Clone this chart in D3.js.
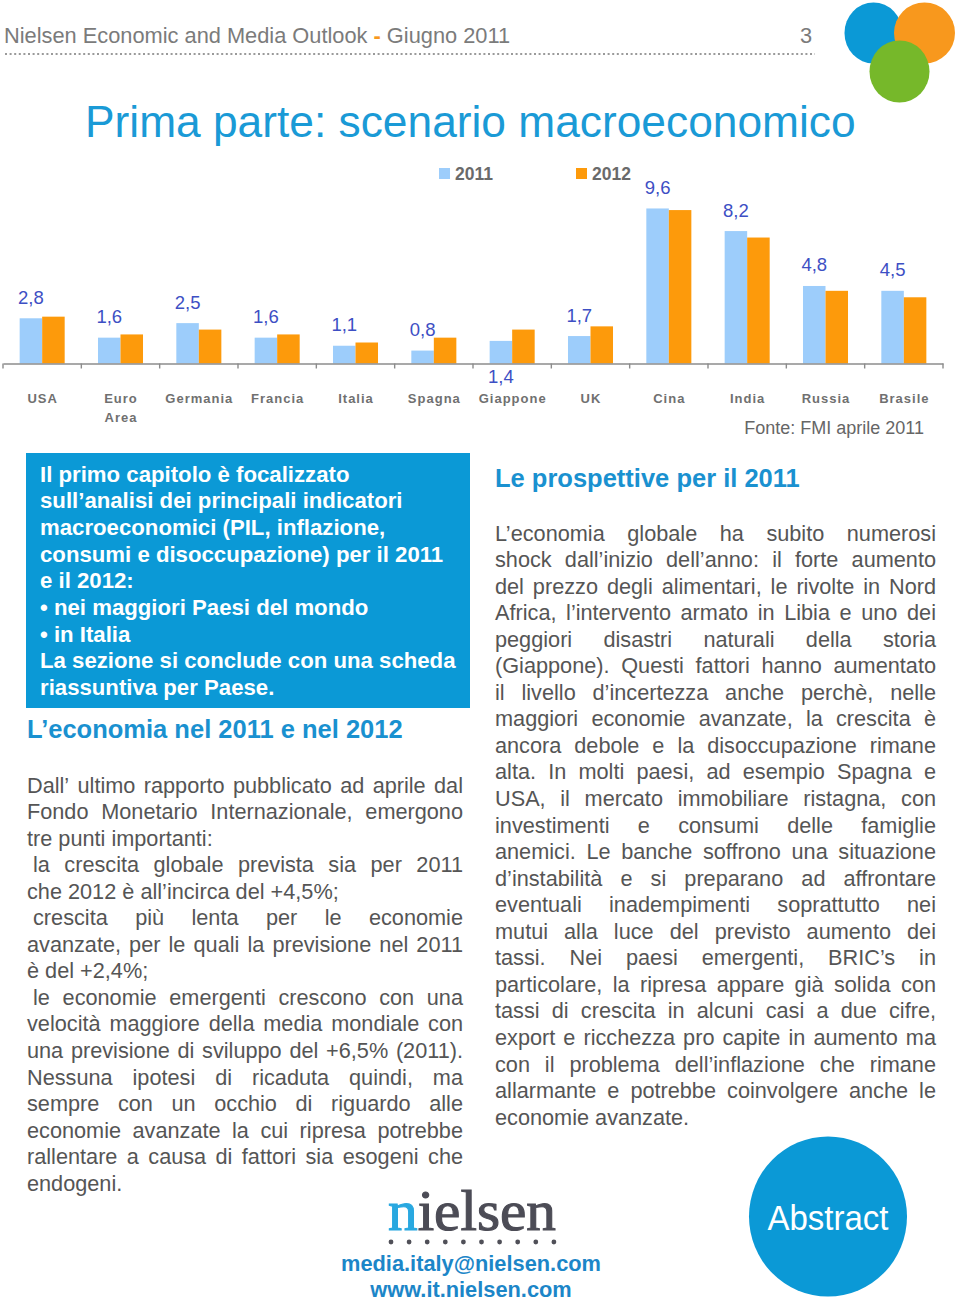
<!DOCTYPE html>
<html>
<head>
<meta charset="utf-8">
<script src="https://cdn.jsdelivr.net/npm/d3@7/dist/d3.min.js"></script>
<style>
  html, body { margin: 0; padding: 0; background: #fff; }
  svg { display: block; }
</style>
</head>
<body>
<script>
// ---------------- DATA ----------------
const categories = ["USA", "Euro Area", "Germania", "Francia", "Italia", "Spagna", "Giappone", "UK", "Cina", "India", "Russia", "Brasile"];
const values2011 = [2.8, 1.6, 2.5, 1.6, 1.1, 0.8, 1.4, 1.7, 9.6, 8.2, 4.8, 4.5];
const values2012 = [2.9, 1.8, 2.1, 1.8, 1.3, 1.6, 2.1, 2.3, 9.5, 7.8, 4.5, 4.1];
const seriesNames = ["2011", "2012"];

const headerText = "Nielsen Economic and Media Outlook";
const headerDate = "Giugno 2011";
const pageNumber = "3";
const titleText = "Prima parte: scenario macroeconomico";
const sourceText = "Fonte: FMI aprile 2011";

const boxLines = [
  "Il primo capitolo è focalizzato",
  "sull’analisi dei principali indicatori",
  "macroeconomici (PIL, inflazione,",
  "consumi e disoccupazione) per il 2011",
  "e il 2012:",
  "• nei maggiori Paesi del mondo",
  "• in Italia",
  "La sezione si conclude con una scheda",
  "riassuntiva per Paese."
];

const leftHeading = "L’economia nel 2011 e nel 2012";
const leftParagraphs = [
  ["Dall’ ultimo rapporto pubblicato ad aprile dal",
   "Fondo Monetario Internazionale, emergono",
   "tre punti importanti:"],
  [" la crescita globale prevista sia per 2011",
   "che 2012 è all’incirca del +4,5%;"],
  [" crescita più lenta per le economie",
   "avanzate, per le quali la previsione nel 2011",
   "è del +2,4%;"],
  [" le economie emergenti crescono con una",
   "velocità maggiore della media mondiale con",
   "una previsione di sviluppo del +6,5% (2011).",
   "Nessuna ipotesi di ricaduta quindi, ma",
   "sempre con un occhio di riguardo alle",
   "economie avanzate la cui ripresa potrebbe",
   "rallentare a causa di fattori sia esogeni che",
   "endogeni."]
];

const rightHeading = "Le prospettive per il 2011";
const rightParagraphs = [
  ["L’economia globale ha subito numerosi",
   "shock dall’inizio dell’anno: il forte aumento",
   "del prezzo degli alimentari, le rivolte in Nord",
   "Africa, l’intervento armato in Libia e uno dei",
   "peggiori disastri naturali della storia",
   "(Giappone). Questi fattori hanno aumentato",
   "il livello d’incertezza anche perchè, nelle",
   "maggiori economie avanzate, la crescita è",
   "ancora debole e la disoccupazione rimane",
   "alta. In molti paesi, ad esempio Spagna e",
   "USA, il mercato immobiliare ristagna, con",
   "investimenti e consumi delle famiglie",
   "anemici. Le banche soffrono una situazione",
   "d’instabilità e si preparano ad affrontare",
   "eventuali inadempimenti soprattutto nei",
   "mutui alla luce del previsto aumento dei",
   "tassi. Nei paesi emergenti, BRIC’s in",
   "particolare, la ripresa appare già solida con",
   "tassi di crescita in alcuni casi a due cifre,",
   "export e ricchezza pro capite in aumento ma",
   "con il problema dell’inflazione che rimane",
   "allarmante e potrebbe coinvolgere anche le",
   "economie avanzate."]
];

const logoText = ["n", "ielsen"];
const emailText = "media.italy@nielsen.com";
const webText = "www.it.nielsen.com";
const badgeText = "Abstract";

// ---------------- STYLE ----------------
const SANS = "'Liberation Sans', Arial, Helvetica, sans-serif";
const SERIF = "'Liberation Serif', 'Times New Roman', serif";
const C = {
  blue: "#0b99d6", title: "#1a9ad6", heading: "#1a91d0", email: "#1c86c8",
  orange: "#f8981d", green: "#76b82a", text: "#555555", header: "#7b7b7b",
  bar2011: "#9dcdfb", bar2012: "#fd9a0b", label: "#3d4fc4", axis: "#8c8c8c",
  cat: "#707070"
};

const W = 960, H = 1302;
const svg = d3.select("body").append("svg").attr("width", W).attr("height", H);
svg.append("rect").attr("width", W).attr("height", H).attr("fill", "#fff");

// ---------------- HEADER ----------------
const hdr = svg.append("text").attr("x", 4).attr("y", 43)
  .attr("font-family", SANS).attr("font-size", 21.8).attr("fill", C.header);
hdr.append("tspan").text(headerText + " ");
hdr.append("tspan").attr("fill", C.orange).attr("font-weight", "bold").text("-");
hdr.append("tspan").text(" " + headerDate);
svg.append("text").attr("x", 812).attr("y", 43).attr("text-anchor", "end")
  .attr("font-family", SANS).attr("font-size", 21.8).attr("fill", C.header).text(pageNumber);
svg.append("line").attr("x1", 5).attr("x2", 815).attr("y1", 54).attr("y2", 54)
  .attr("stroke", "#9a9a9a").attr("stroke-width", 2).attr("stroke-dasharray", "2,2.6");

// decorative circles
const circ = [
  {cx: 873.5, cy: 33, rx: 29, ry: 30.5, c: C.blue},
  {cx: 924.5, cy: 33, rx: 30.5, ry: 30.5, c: C.orange},
  {cx: 899.5, cy: 71.5, rx: 30, ry: 31, c: C.green}
];
svg.selectAll("ellipse.deco").data(circ).join("ellipse").attr("class", "deco")
  .attr("cx", d => d.cx).attr("cy", d => d.cy).attr("rx", d => d.rx).attr("ry", d => d.ry)
  .attr("fill", d => d.c);

// title
svg.append("text").attr("x", 85).attr("y", 137)
  .attr("font-family", SANS).attr("font-size", 44.3).attr("fill", C.title).text(titleText);

// ---------------- CHART ----------------
const baseY = 363.5;
const x0 = d3.scaleBand().domain(categories).range([3, 943]).paddingInner(0).paddingOuter(0);
const x1 = d3.scaleBand().domain(seriesNames).range([0, x0.bandwidth()]).paddingInner(0).paddingOuter(0.74);
const y = d3.scaleLinear().domain([0, 10]).range([baseY, baseY - 161.5]);
const color = d3.scaleOrdinal().domain(seriesNames).range([C.bar2011, C.bar2012]);
const fmt = v => d3.format(".1f")(v).replace(".", ",");

const rows = categories.map((c, i) => ({cat: c, vals: [values2011[i], values2012[i]]}));
const chart = svg.append("g");

const grp = chart.selectAll("g.cat").data(rows).join("g").attr("class", "cat")
  .attr("transform", d => `translate(${x0(d.cat)},0)`);
grp.selectAll("rect").data(d => d.vals.map((v, k) => ({s: seriesNames[k], v})))
  .join("rect")
  .attr("x", d => x1(d.s)).attr("width", x1.bandwidth())
  .attr("y", d => y(d.v)).attr("height", d => baseY - y(d.v))
  .attr("fill", d => color(d.s));

// value labels (2011 series)
grp.append("text")
  .attr("x", x1("2011") + x1.bandwidth() / 2)
  .attr("y", d => d.cat === "Giappone" ? baseY + 19 : y(d.vals[0]) - 14.5)
  .attr("text-anchor", "middle")
  .attr("font-family", SANS).attr("font-size", 18.5).attr("fill", C.label)
  .text(d => fmt(d.vals[0]));

// axis
const xAxis = d3.axisBottom(x0).tickSize(0).tickFormat("");
const axG = chart.append("g").attr("transform", `translate(0,${baseY})`).call(xAxis);
axG.select(".domain").attr("stroke", C.axis).attr("stroke-width", 1.6);
axG.selectAll(".tick").remove();
const boundaries = categories.map(c => x0(c)).concat([x0.range()[1]]);
axG.selectAll("line.bt").data(boundaries).join("line").attr("class", "bt")
  .attr("x1", d => d).attr("x2", d => d).attr("y1", 0).attr("y2", 5)
  .attr("stroke", C.axis).attr("stroke-width", 1.4);

// category labels
const catT = chart.selectAll("text.catlab").data(categories).join("text").attr("class", "catlab")
  .attr("text-anchor", "middle")
  .attr("font-family", SANS).attr("font-size", 13).attr("font-weight", "bold")
  .attr("letter-spacing", 1).attr("fill", C.cat);
catT.each(function (c) {
  const parts = c.split(" ");
  const t = d3.select(this);
  parts.forEach((p, k) => {
    t.append("tspan").attr("x", x0(c) + x0.bandwidth() / 2 + 0.5).attr("y", 403 + k * 18.5).text(p);
  });
});

// legend
const leg = chart.selectAll("g.leg").data(seriesNames).join("g").attr("class", "leg")
  .attr("transform", (d, i) => `translate(${[439, 576][i]},168)`);
leg.append("rect").attr("width", 11).attr("height", 11).attr("fill", d => color(d));
leg.append("text").attr("x", 16).attr("y", 11.5)
  .attr("font-family", SANS).attr("font-size", 17.5).attr("font-weight", "bold")
  .attr("fill", "#6a6a6a").text(d => d);

// source
svg.append("text").attr("x", 924).attr("y", 434).attr("text-anchor", "end")
  .attr("font-family", SANS).attr("font-size", 18).attr("fill", "#666").text(sourceText);

// ---------------- BLUE BOX ----------------
svg.append("rect").attr("x", 26).attr("y", 453).attr("width", 444).attr("height", 255).attr("fill", C.blue);
svg.append("g").selectAll("text").data(boxLines).join("text")
  .attr("x", 40).attr("y", (d, i) => 481.7 + i * 26.66)
  .attr("font-family", SANS).attr("font-size", 22.2).attr("font-weight", "bold")
  .attr("fill", "#fff").text(d => d);

// ---------------- HEADINGS ----------------
svg.append("text").attr("x", 27).attr("y", 738)
  .attr("font-family", SANS).attr("font-size", 25.5).attr("font-weight", "bold")
  .attr("fill", C.heading).text(leftHeading);
svg.append("text").attr("x", 495).attr("y", 486.7)
  .attr("font-family", SANS).attr("font-size", 25.5).attr("font-weight", "bold")
  .attr("fill", C.heading).text(rightHeading);

// ---------------- JUSTIFIED BODY TEXT ----------------
function drawJustified(paragraphs, x0p, width, yStart, lh) {
  const g = svg.append("g").attr("font-family", SANS).attr("font-size", 21.7).attr("fill", C.text);
  let row = 0;
  paragraphs.forEach(par => {
    par.forEach((line, li) => {
      const isLast = li === par.length - 1;
      const indent = line.startsWith(" ") ? 6 : 0;
      const words = line.trim().split(/\s+/);
      const t = g.append("text").attr("y", yStart + row * lh);
      const spans = words.map(w => t.append("tspan").text(w));
      const widths = spans.map(s => s.node().getComputedTextLength());
      const total = d3.sum(widths);
      const space = 21.7 * 0.278;
      const gap = (!isLast && words.length > 1) ? (width - indent - total) / (words.length - 1) : space;
      let xx = x0p + indent;
      spans.forEach((s, j) => { s.attr("x", xx); xx += widths[j] + gap; });
      row++;
    });
  });
}
drawJustified(leftParagraphs, 27, 436, 792.5, 26.55);
drawJustified(rightParagraphs, 495, 441, 540.5, 26.55);

// ---------------- LOGO & CONTACTS ----------------
const logo = svg.append("text").attr("x", 388).attr("y", 1230)
  .attr("font-family", SERIF).attr("font-size", 58)
  .attr("stroke-width", 1.1)
  .attr("textLength", 168).attr("lengthAdjust", "spacingAndGlyphs");
logo.append("tspan").attr("fill", "#29a8e0").attr("stroke", "#29a8e0").text(logoText[0]);
logo.append("tspan").attr("fill", "#4c4c56").attr("stroke", "#4c4c56").text(logoText[1]);
svg.selectAll("circle.ldot").data(d3.range(10)).join("circle").attr("class", "ldot")
  .attr("cx", d => 391 + d * 18.1).attr("cy", 1242).attr("r", 2.4).attr("fill", "#505058");

svg.append("text").attr("x", 471).attr("y", 1271).attr("text-anchor", "middle")
  .attr("font-family", SANS).attr("font-size", 21.8).attr("font-weight", "bold")
  .attr("fill", C.email).text(emailText);
svg.append("text").attr("x", 471).attr("y", 1297).attr("text-anchor", "middle")
  .attr("font-family", SANS).attr("font-size", 21.8).attr("font-weight", "bold")
  .attr("fill", C.email).text(webText);

// Abstract badge
svg.append("ellipse").attr("cx", 828).attr("cy", 1216.5).attr("rx", 79).attr("ry", 80).attr("fill", C.blue);
svg.append("text").attr("x", 828).attr("y", 1230).attr("text-anchor", "middle")
  .attr("font-family", SANS).attr("font-size", 35).attr("fill", "#fff")
  .attr("textLength", 121).attr("lengthAdjust", "spacingAndGlyphs").text(badgeText);
</script>
</body>
</html>
